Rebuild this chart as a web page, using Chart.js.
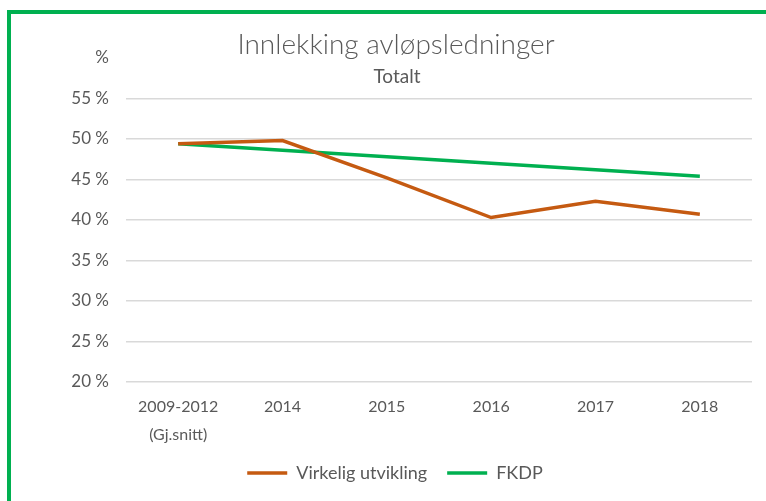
<!DOCTYPE html>
<html>
<head>
<meta charset="utf-8">
<script src="https://cdn.jsdelivr.net/npm/chart.js@4"></script>
<style>
  html, body { margin: 0; padding: 0; background: #fff; }
  #wrap { position: relative; width: 766px; height: 501px; overflow: hidden; }
  #frame { position: absolute; left: 7px; top: 10px; width: 800px; height: 600px;
           border-left: 4px solid #00B050; border-top: 4px solid #00B050; }
  canvas { position: absolute; left: 0; top: 0; }
</style>
</head>
<body>
<div id="wrap">
  <div id="frame"></div>
  <canvas id="chart" width="766" height="501"></canvas>
</div>
<script>
const categories = [["2009-2012", "(Gj.snitt)"], "2014", "2015", "2016", "2017", "2018"]
const virkelig = [49.4, 49.8, 45.2, 40.3, 42.3, 40.7]
const fkdp = [49.4, 48.6, 47.8, 47.0, 46.2, 45.4]
const yTicks = [20, 25, 30, 35, 40, 45, 50, 55, 60]

const textColor = "#595959"
const font = "Lato, 'Liberation Sans', sans-serif"

const titlePlugin = {
  id: "titleText",
  afterDraw(chart) {
    const ctx = chart.ctx
    ctx.save()
    ctx.fillStyle = textColor
    ctx.textAlign = "center"
    ctx.textBaseline = "middle"
    ctx.font = "300 28px " + font
    ctx.fillText("Innlekking avløpsledninger", 396, 45)
    ctx.font = "19px " + font
    ctx.fillText("Totalt", 397, 77)
    ctx.restore()
  }
}

new Chart(document.getElementById("chart"), {
  type: "line",
  data: {
    labels: categories,
    datasets: [
      {
        label: "Virkelig utvikling",
        data: virkelig,
        borderColor: "#C55A11",
        backgroundColor: "#C55A11",
        borderWidth: 3.5,
        pointRadius: 0,
        tension: 0
      },
      {
        label: "FKDP",
        data: fkdp,
        borderColor: "#00B050",
        backgroundColor: "#00B050",
        borderWidth: 3.5,
        pointRadius: 0,
        tension: 0
      }
    ]
  },
  options: {
    responsive: false,
    animation: false,
    layout: { padding: { top: 58, right: 14, bottom: 9, left: 38 } },
    scales: {
      x: {
        offset: true,
        grid: { display: false },
        border: { display: false },
        ticks: { color: textColor, font: { size: 16, family: font, lineHeight: 1.8 }, padding: 2, maxRotation: 0, autoSkip: false },
        afterFit: s => { s.height = 62 }
      },
      y: {
        min: 20,
        max: 60,
        afterBuildTicks: s => { s.ticks = yTicks.map(v => ({ value: v })) },
        grid: {
          color: c => c.tick && c.tick.value === 60 ? "rgba(0,0,0,0)" : "#d9d9d9",
          lineWidth: 1.5,
          drawTicks: false
        },
        border: { display: false },
        ticks: {
          color: textColor,
          font: { size: 17, family: font },
          padding: 17,
          callback: v => v === 60 ? "%" : v + " %"
        },
        afterFit: s => { s.width = 88 }
      }
    },
    plugins: {
      legend: {
        position: "bottom",
        labels: {
          color: textColor,
          font: { size: 18, family: font },
          usePointStyle: true,
          pointStyle: "line",
          pointStyleWidth: 40,
          padding: 20
        }
      },
      tooltip: { enabled: false }
    }
  },
  plugins: [titlePlugin]
})
</script>
</body>
</html>
